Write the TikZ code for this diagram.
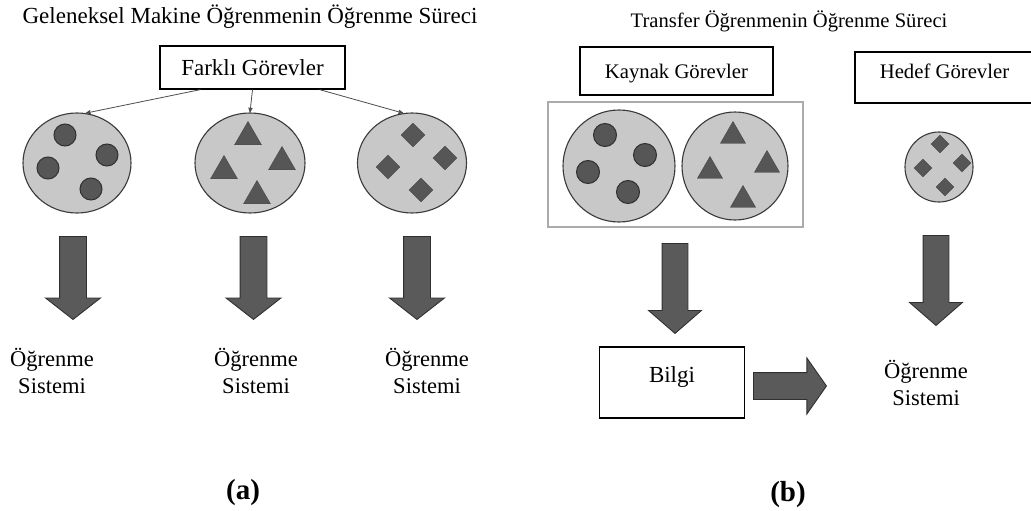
\documentclass[tikz,border=0pt]{standalone}
\usepackage{fontspec}
\setmainfont{Liberation Serif}
\usetikzlibrary{shapes,arrows,calc,positioning,shapes.geometric,shapes.arrows}
\definecolor{kumeic}{HTML}{C8C8C8}
\definecolor{kumekenar}{HTML}{3A3A3A}
\definecolor{ogeic}{HTML}{565656}
\definecolor{ogekenar}{HTML}{303030}
\definecolor{oklar}{HTML}{5A5A5A}
\definecolor{cerceverenk}{HTML}{ABABAB}
\tikzset{
>=stealth',
  gorev/.style={
    rectangle,
    draw=black, line width=1.2pt,
    inner sep=0pt,
    font=\fontsize{23}{28}\selectfont},
  kume/.style={
    ellipse,
    draw=kumekenar, fill=kumeic, line width=1.1pt,
    inner sep=0pt},
  nokta/.style={circle, draw=ogekenar, fill=ogeic, line width=1pt,
    inner sep=0pt, minimum size=#1},
  ucgen/.style={regular polygon, regular polygon sides=3,
    draw=ogeic!80!black, fill=ogeic, inner sep=0pt, minimum size=#1},
  karo/.style={diamond, draw=ogeic!80!black, fill=ogeic,
    inner sep=0pt, minimum size=#1},
  blokok/.style={single arrow, draw=ogekenar, fill=oklar, line width=0.9pt,
    inner xsep=0pt, minimum width=0pt, anchor=tail},
  sistem/.style={align=center, inner sep=0pt,
    font=\fontsize{22.5}{27.5}\selectfont},
}

\begin{document}
\begin{tikzpicture}[
    x=1pt, y=-1pt,
    dal/.style={draw=black!70, line width=0.8pt, ->},
    baslik/.style={inner sep=0pt, anchor=base},
    harf/.style={inner sep=0pt, anchor=base,
      font=\bfseries\fontsize{29}{34}\selectfont},
    asagiok/.style={blokok, rotate=-90, minimum height=83, inner ysep=13,
      single arrow head extend=14, single arrow tip angle=104},
    asagiokB/.style={blokok, rotate=-90, minimum height=90, inner ysep=12.5,
      single arrow head extend=13.5, single arrow tip angle=98}
    ]
    \useasboundingbox (0,0) rectangle (1031,511);

    % (a) geleneksel
    \node[baslik, font=\fontsize{23}{28}\selectfont] (basA) at (250,24)
         {Geleneksel Makine Öğrenmenin Öğrenme Süreci};
    \node[gorev, minimum width=185, minimum height=43] (farkli) at (252.5,67.5)
         {Farklı Görevler};

    \node[kume, minimum width=108, minimum height=100] (kumeA) at (77,163) {};
    \node[kume, minimum width=110, minimum height=100] (kumeB) at (250,163) {};
    \node[kume, minimum width=109, minimum height=100] (kumeC) at (412,163) {};

    \foreach \p [count=\i] in {(65,135),(107,155),(48,168),(91,189)}
        \node[nokta=22] (daireA\i) at \p {};
    \foreach \p [count=\i] in {(248,137),(224,171),(282,162),(257,196)}
        \node[ucgen=31] (ucgenB\i) at \p {};
    \foreach \p [count=\i] in {(413,135),(445,158),(388,167),(421,190)}
        \node[karo=24] (karoC\i) at \p {};

    \draw[dal] ([xshift=-52]farkli.south) -- (kumeA.80);
    \draw[dal] (farkli.south) -- (kumeB.north);
    \draw[dal] ([xshift=67]farkli.south) -- (kumeC.100);

    \node[asagiok] (okA) at (73,236) {};
    \node[asagiok] (okB) at (253.5,236) {};
    \node[asagiok] (okC) at (417,236) {};

    \node[sistem] (sistemA) at (52,371) {Öğrenme\\Sistemi};
    \node[sistem] (sistemB) at (256,371) {Öğrenme\\Sistemi};
    \node[sistem] (sistemC) at (427,371) {Öğrenme\\Sistemi};

    \node[harf] (etiketA) at (243,499) {(a)};

    % (b) transfer
    \node[baslik, font=\fontsize{20.6}{25}\selectfont] (basB) at (789,28)
         {Transfer Öğrenmenin Öğrenme Süreci};
    \node[gorev, font=\fontsize{20.7}{25}\selectfont, minimum width=193,
          minimum height=48, text depth=0pt] (kaynak) at (676.5,71)
         {Kaynak Görevler};
    \node[gorev, font=\fontsize{20.7}{25}\selectfont, minimum width=179,
          minimum height=51, text height=14pt, text depth=13pt] (hedef)
          at (944.5,77.5) {Hedef Görevler};

    \node[draw=cerceverenk, line width=1.5pt, minimum width=255,
          minimum height=125, inner sep=0pt] (cerceve) at (675.5,164.5) {};

    \node[kume, minimum width=112, minimum height=112] (kumeD) at (619,166) {};
    \node[kume, minimum width=106, minimum height=108] (kumeE) at (735,166) {};
    \node[kume, minimum width=68, minimum height=70] (kumeF) at (939,167) {};

    \foreach \p [count=\i] in {(605,135),(645,155),(588,172),(628,192)}
        \node[nokta=23] (daireD\i) at \p {};
    \foreach \p [count=\i] in {(733,136),(767,165),(710,171),(743,200)}
        \node[ucgen=29] (ucgenE\i) at \p {};
    \foreach \p [count=\i] in {(940,144),(962,163),(923,168),(945,187)}
        \node[karo=18] (karoF\i) at \p {};

    \node[asagiokB] (okD) at (675,243) {};
    \node[asagiokB] (okF) at (936,235) {};

    \node[gorev, minimum width=145, minimum height=71, text height=15pt,
          text depth=15pt] (bilgi) at (672,382.5) {Bilgi};
    \node[blokok, minimum height=73, inner ysep=13,
          single arrow head extend=14.5, single arrow tip angle=110]
          (okBilgi) at (753,386) {};

    \node[sistem] (sistemF) at (926,383) {Öğrenme\\Sistemi};

    \node[harf] (etiketB) at (788,501) {(b)};
\end{tikzpicture}
\end{document}
